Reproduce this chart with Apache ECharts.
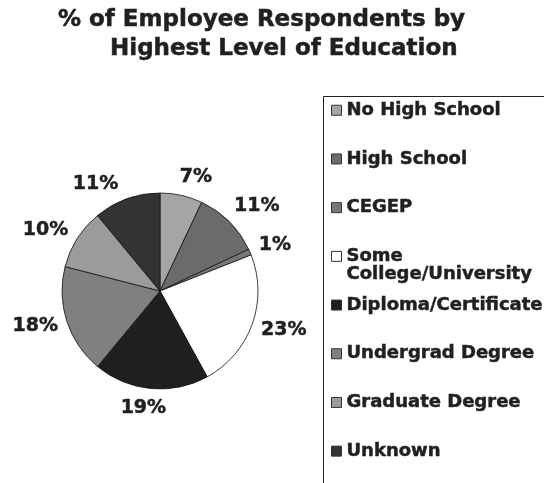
<!DOCTYPE html>
<html>
<head>
<meta charset="utf-8">
<script src="https://cdn.jsdelivr.net/npm/echarts@6/dist/echarts.min.js"></script>
<style>
  html, body { margin: 0; padding: 0; background: #fff; }
  #chart { width: 544px; height: 483px; }
</style>
</head>
<body>
<div id="chart"></div>
<script>
// Education categories and their share of respondents (%)
const categories = [
  'No High School',
  'High School',
  'CEGEP',
  'Some College/University',
  'Diploma/Certificate',
  'Undergrad Degree',
  'Graduate Degree',
  'Unknown'
];
const shares = [7, 11, 1, 23, 19, 18, 10, 11];

// Grey-scale fill for each slice
const sliceColors = ['#a5a5a5', '#6b6b6b', '#777777', '#ffffff', '#1f1f1f', '#808080', '#9b9b9b', '#333333'];

// Layout constants
const FONT = 'DejaVu Sans';
const INK = '#231f20';
const CX = 160, CY = 291, R = 98;
const LABEL_GAP = 7;
// small angular nudges (degrees) that keep the labels clear of each other
const labelNudge = [4.9, 3.8, 1.6, -2.2, 2.7, 2.1, -4.2, -11.2];

const total = shares.reduce((a, b) => a + b, 0);
const cumulative = [];
shares.reduce((acc, v, i) => { cumulative[i] = acc; return acc + v; }, 0);

// heavy bold text: a hairline outline in the text colour thickens the strokes
const boldText = (size, extra) => Object.assign({
  fontFamily: FONT,
  fontWeight: 'bold',
  fontSize: size,
  color: INK,
  textBorderColor: INK,
  textBorderWidth: 0.5
}, extra || {});

const chart = echarts.init(document.getElementById('chart'), null, { renderer: 'canvas' });

// One legend block per category, stacked down the right-hand panel
const LEGEND_FIRST = 110, LEGEND_STEP = 48.7, LINE_H = 18;
const legends = categories.map((name, i) => {
  const twoLine = name.startsWith('Some ');
  const centerY = LEGEND_FIRST + i * LEGEND_STEP;
  // the wrapped entry gets an empty leading line so its swatch sits on the first line
  const half = twoLine ? LINE_H * 1.5 : LINE_H / 2;
  return {
    data: [name],
    left: 331,
    top: centerY - half,
    padding: 0,
    itemWidth: 10,
    itemHeight: 10,
    icon: 'rect',
    selectedMode: false,
    itemStyle: { borderColor: '#333', borderWidth: 1 },
    formatter: n => (n.startsWith('Some ') ? '\n' + n.replace(' ', '\n') : n),
    textStyle: boldText(18, { lineHeight: LINE_H })
  };
});

const option = {
  backgroundColor: '#ffffff',
  animation: false,
  title: [
    {
      text: '% of Employee Respondents by',
      left: 58, top: 9, padding: 0,
      textStyle: boldText(23)
    },
    {
      text: 'Highest Level of Education',
      left: 110, top: 38, padding: 0,
      textStyle: boldText(23)
    }
  ],
  legend: legends,
  graphic: [
    {
      type: 'rect',
      shape: { x: 323.5, y: 96.5, width: 300, height: 500 },
      style: { fill: 'none', stroke: '#222', lineWidth: 1 },
      silent: true,
      z: -1
    }
  ],
  series: [
    {
      type: 'pie',
      center: [CX, CY],
      radius: R,
      startAngle: 90,
      clockwise: true,
      avoidLabelOverlap: false,
      itemStyle: { borderColor: '#111', borderWidth: 0.8 },
      emphasis: { disabled: true },
      label: Object.assign({
        show: true,
        position: 'outside',
        formatter: p => p.value + '%'
      }, boldText(19)),
      labelLine: { show: false },
      // place each label just beyond the rim along its slice's mid-angle
      labelLayout: params => {
        const i = params.dataIndex;
        const mid = (cumulative[i] + shares[i] / 2) / total * 360 + labelNudge[i];
        const a = mid * Math.PI / 180;
        const ux = Math.sin(a), uy = -Math.cos(a);
        const w = params.labelRect.width, h = params.labelRect.height;
        const ext = (w / 2) * Math.abs(ux) + (h / 2) * Math.abs(uy);
        const d = R + LABEL_GAP + ext;
        return { x: CX + d * ux, y: CY + d * uy, align: 'center', verticalAlign: 'middle' };
      },
      data: categories.map((name, i) => ({
        name,
        value: shares[i],
        itemStyle: { color: sliceColors[i] }
      }))
    }
  ]
};

chart.setOption(option);
</script>
</body>
</html>
